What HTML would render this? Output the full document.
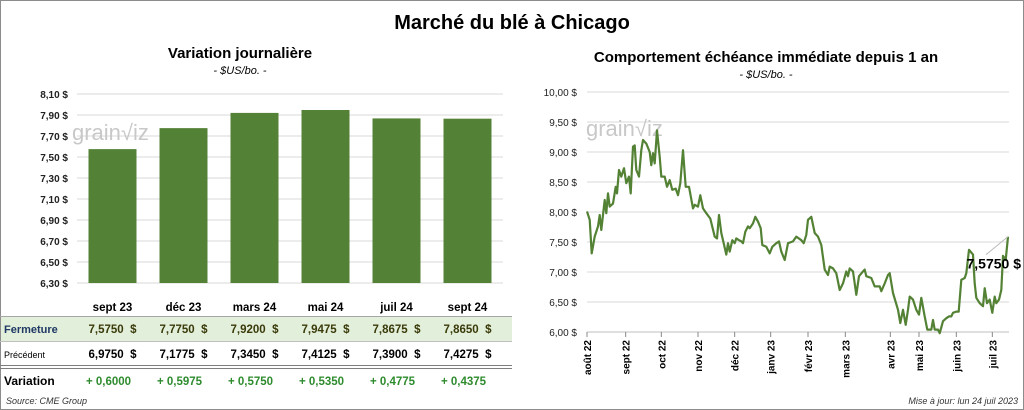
<!DOCTYPE html>
<html><head><meta charset="utf-8"><style>
body{margin:0;background:#fff;font-family:"Liberation Sans",sans-serif;}
#wrap{position:relative;width:1024px;height:410px;overflow:hidden;}
</style></head><body>
<div id="wrap">
<svg id="svg" width="1024" height="410" style="position:absolute;left:0;top:0">
<rect x="0.5" y="0.5" width="1023" height="409" fill="none" stroke="#8c8c8c"/>
<text x="512" y="29" text-anchor="middle" font-size="20" font-weight="bold" fill="#000">Marché du blé à Chicago</text>
<text x="240" y="58" text-anchor="middle" font-size="15" font-weight="bold">Variation  journalière</text>
<text x="240" y="74" text-anchor="middle" font-size="11" font-style="italic">- $US/bo. -</text>
<text x="766" y="62" text-anchor="middle" font-size="15" font-weight="bold">Comportement  échéance immédiate depuis 1 an</text>
<text x="766" y="78" text-anchor="middle" font-size="11" font-style="italic">- $US/bo. -</text>
<g id="left"></g>
<g id="right"></g>
<g id="table"></g>
<text x="6" y="404" font-size="9" font-style="italic" fill="#333">Source: CME Group</text>
<text x="1018" y="404" text-anchor="end" font-size="9" font-style="italic" fill="#333">Mise à jour: lun 24 juil 2023</text>
</svg>
</div>
<script>
const NS="http://www.w3.org/2000/svg";
const contracts=["sept 23","déc 23","mars 24","mai 24","juil 24","sept 24"];
const closeVals=[7.5750,7.7750,7.9200,7.9475,7.8675,7.8650];
const prevVals=[6.9750,7.1775,7.3450,7.4125,7.3900,7.4275];
const leftTicks=[6.30,6.50,6.70,6.90,7.10,7.30,7.50,7.70,7.90,8.10];
const rightTicks=[6.00,6.50,7.00,7.50,8.00,8.50,9.00,9.50,10.00];
const dayIdx=[22,30,36,45,55,60,65,75,80,85,90,100,108,112,118,125,133,140,148,153,160,165,170,178,185,190,200,210,215,220,225,232,240,245,255,262,270,278,288,295,302,310,318,328,340,345,355,362,370,380,392,405,412,418,425,432,440,445,450,458,465,470,478,485,490,497,505,510,520,527,535,543,548,560,570,578,590,598,605,615,625,640,650,665,672,680,685,695,705,715,725,735,745,750,760,770,780,790,800,805,810,820,830,838,850,855,860,875,885,900,905,915,925,930,940,955,962,970,978,985,990,1000,1010,1018,1025,1035,1043,1055,1060,1065,1075,1080,1090,1100,1108,1115,1120,1130,1137,1145,1155,1160,1168,1180,1185,1190,1200,1210,1215,1222,1230,1238,1245,1250,1258,1265,1270,1278,1285];
const prices=[8.01,7.87,7.31,7.59,7.76,7.95,7.70,8.20,7.98,8.31,8.09,8.14,8.42,8.31,8.70,8.59,8.73,8.48,8.59,8.31,9.09,9.11,8.70,8.59,9.03,9.20,9.14,9.00,8.78,8.98,8.81,9.36,8.92,8.59,8.59,8.42,8.53,8.37,8.39,8.28,8.48,9.03,8.42,8.42,8.06,8.12,8.09,8.28,8.06,7.98,7.89,7.59,7.56,7.95,7.65,7.48,7.29,7.48,7.34,7.53,7.48,7.56,7.53,7.51,7.48,7.67,7.76,7.73,7.81,7.92,7.84,7.73,7.45,7.42,7.31,7.42,7.48,7.51,7.34,7.20,7.48,7.51,7.59,7.53,7.48,7.62,7.87,7.92,7.65,7.59,7.45,7.04,6.95,7.09,7.06,6.98,6.70,6.81,7.01,6.93,7.06,7.01,6.62,6.93,7.01,7.04,6.93,6.90,6.76,6.76,6.68,6.81,6.95,6.98,6.65,6.37,6.15,6.37,6.12,6.37,6.59,6.54,6.37,6.29,6.57,6.26,6.04,6.04,6.20,6.04,6.04,5.98,6.18,6.23,6.26,6.26,6.32,6.34,6.34,6.87,6.90,6.98,7.37,7.29,6.81,6.57,6.48,6.43,6.73,6.48,6.54,6.32,6.59,6.48,6.54,6.70,7.27,7.20,7.59];
const monthLabels=["août 22","sept 22","oct 22","nov 22","déc 22","janv 23","févr 23","mars 23","avr 23","mai 23","juin 23","juil 23"];
const monthIdx=[22,138,245,355,465,573,685,797,932,1018,1130,1238];
const lastLabel="7,5750 $";

function el(tag,attrs,parent,text){const e=document.createElementNS(NS,tag);for(const k in attrs)e.setAttribute(k,attrs[k]);if(text!==undefined)e.textContent=text;parent.appendChild(e);return e;}
const fmt=(v,d)=>v.toFixed(d).replace('.',',');
// LEFT
const L=document.getElementById('left');
const lx0=77,lx1=503,ly=v=>283-(v-6.30)/1.8*189;
const band=(lx1-lx0)/contracts.length;
leftTicks.forEach(t=>{
 const g=el('line',{x1:lx0,x2:lx1,y1:ly(t),y2:ly(t),stroke:'#d9d9d9'},L);
 
 const tx=el('text',{x:68,y:ly(t)+4,'text-anchor':'end','font-size':10,'font-weight':'bold',fill:'#222'},L,fmt(t,2)+' $');
 
});
const wm1=el('text',{x:72,y:140,'font-size':22,fill:'#c8c8c8'},L,'grain\u221Aiz');

closeVals.forEach((v,i)=>{
 const cx=lx0+band*(i+0.5);
 const r=el('rect',{x:cx-24,y:ly(v),width:48,height:283-ly(v),fill:'#538135'},L);
 
});
// TABLE
const T=document.getElementById('table');
const r1=el('rect',{x:1,y:316,width:511,height:25,fill:'#e2efda'},T);

[[316,'#a6a6a6'],[341,'#bfbfbf'],[365,'#7f7f7f'],[368,'#7f7f7f']].forEach(([y,c])=>{
 const ln=el('line',{x1:0,x2:512,y1:y+0.5,y2:y+0.5,stroke:c},T);
 
});
const lab=[['Fermeture',333,11,'bold','#1f3864'],['Précédent',358,9,'normal','#000'],['Variation',385,12,'bold','#000']];
lab.forEach(([s,y,fs,fw,c])=>{const t=el('text',{x:4,y:y,'font-size':fs,'font-weight':fw,fill:c},T,s);
 });
contracts.forEach((c,i)=>{
 const cx=lx0+band*(i+0.5);
 const h=el('text',{x:cx,y:311,'text-anchor':'middle','font-size':11.5,'font-weight':'bold'},T,c);
 
 const a=el('text',{x:cx,y:333,'text-anchor':'middle','font-size':11.5,'font-weight':'bold',fill:'#3a3a0a'},T,fmt(closeVals[i],4)+'\u00a0\u00a0$');
 
 const b=el('text',{x:cx,y:358,'text-anchor':'middle','font-size':11.5,'font-weight':'bold'},T,fmt(prevVals[i],4)+'\u00a0\u00a0$');
 
 const d=el('text',{x:cx-4,y:385,'text-anchor':'middle','font-size':11.5,'font-weight':'bold',fill:'#2e8b2e'},T,'+ '+fmt(closeVals[i]-prevVals[i],4));
 
});
// RIGHT
const R=document.getElementById('right');
const rx0=587,rx1=1008,ry=v=>332-(v-6)/4*240;
const rx=d=>rx0+(d-22)/(1285-22)*(rx1-rx0);
rightTicks.forEach(t=>{
 const g=el('line',{x1:rx0,x2:1009,y1:ry(t),y2:ry(t),stroke:t===6?'#bfbfbf':'#d9d9d9'},R);
 
 const tx=el('text',{x:577,y:ry(t)+4,'text-anchor':'end','font-size':10,fill:'#222'},R,fmt(t,2)+' $');
 
});
const wm2=el('text',{x:586,y:136,'font-size':22,fill:'#c8c8c8'},R,'grain\u221Aiz');

monthIdx.forEach((d,i)=>{
 const x=rx(d);
 const tk=el('line',{x1:x,x2:x,y1:332,y2:337,stroke:'#888'},R);
 
 const tx=el('text',{x:0,y:0,'font-size':10,'font-weight':'bold','text-anchor':'end',transform:`translate(${x+4},340) rotate(-90)`},R,monthLabels[i]);
 
});
const pts=dayIdx.map((d,i)=>rx(d).toFixed(1)+','+ry(prices[i]).toFixed(1)).join(' ');
const pl=el('polyline',{points:pts,fill:'none',stroke:'#548235','stroke-width':2.2,'stroke-linejoin':'round'},R);

const lx=rx(dayIdx[dayIdx.length-1]),lyv=ry(prices[prices.length-1]);
const ld=el('line',{x1:lx,y1:lyv,x2:lx-22,y2:lyv+18,stroke:'#bbb'},R);

const lt=el('text',{x:1021,y:lyv+32,'text-anchor':'end','font-size':14,'font-weight':'bold'},R,lastLabel);

</script>
</body></html>
